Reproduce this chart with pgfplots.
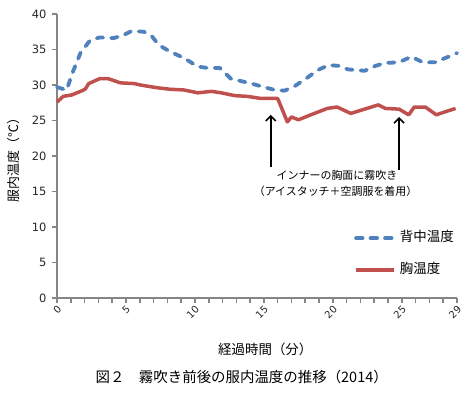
\documentclass[border=0pt]{standalone}
\usepackage{pgfplots}
\pgfplotsset{compat=1.18}
\usepackage{fontspec}
\setmainfont{DejaVu Sans}
\newfontfamily\jp{Noto Sans CJK JP}
\usetikzlibrary{arrows.meta}
\definecolor{bluel}{HTML}{4F81BD}
\definecolor{redl}{HTML}{C0504D}
\definecolor{axgray}{HTML}{868686}
\begin{document}
\begin{tikzpicture}
\begin{axis}[
 scale only axis, width=400bp, height=284bp,
 xmin=0, xmax=29, ymin=0, ymax=40,
 axis lines*=left,
 axis line style={axgray, line width=2.2bp},
 tick style={axgray, line width=1.6bp},
 tick align=outside,
 major tick length=5bp, minor tick length=5bp,
 xtick={0,5,10,15,20,25,29},
 minor xtick={0,...,29},
 ytick={0,5,...,40},
 /pgf/number format/assume math mode=true,
 yticklabel style={font=\fontsize{11.5}{12}\selectfont, text=black!85, xshift=-2bp},
 xticklabel style={font=\fontsize{10}{11}\selectfont, rotate=45, anchor=east, text=black!85, yshift=-5bp, xshift=2bp},
 clip=false,
 legend style={at={(axis cs:21.53,9.37)}, anchor=north west, draw=none, fill=none, inner sep=0pt, row sep=19bp, column sep=4bp, font=\jp\fontsize{13.5}{16}\selectfont, nodes={inner sep=0pt, text height=10bp, text depth=3bp}},
 legend cell align=left,
 legend image code/.code={\draw[#1] (0bp,0bp) -- (38bp,0bp);},
]
\addplot[bluel, line width=3.8bp, dash pattern=on 6.5bp off 8bp, line cap=round, line join=round] coordinates {
(0,29.7) (0.5,29.4) (0.7,29.3) (1.1,31.6) (1.7,34.5) (2.4,36.3) (3.1,36.7) (4.1,36.6) (4.8,37.0) (5.4,37.6) (6.3,37.5) (6.9,36.8) (7.4,35.6) (8.2,34.7) (9.2,33.8) (10.2,32.6) (10.9,32.4) (11.8,32.4) (12.6,30.9) (14.1,30.2) (15.0,29.7) (15.8,29.3) (16.5,29.2) (17.2,29.8) (18.2,31.1) (18.9,32.1) (19.7,32.8) (20.4,32.7) (21.1,32.2) (22.3,32.0) (23.1,32.7) (23.8,33.1) (24.8,33.2) (25.7,34.0) (26.5,33.2) (27.4,33.2) (28.4,34.0) (29.0,34.5)
};
\addlegendentry{背中温度}
\addplot[redl, line width=3.5bp, line join=round] coordinates {
(0,27.6) (0.45,28.4) (1.07,28.6) (1.7,29.1) (2.04,29.4) (2.3,30.2) (3.1,30.9) (3.7,30.9) (4.6,30.3) (5.6,30.2) (6.05,30.0) (7.3,29.6) (8.2,29.4) (9.2,29.3) (10.2,28.9) (11.2,29.1) (11.9,28.9) (12.9,28.5) (13.8,28.4) (14.8,28.1) (16.0,28.1) (16.7,24.8) (17.0,25.5) (17.5,25.1) (18.4,25.8) (19.6,26.7) (20.3,26.9) (21.3,26.0) (22.3,26.6) (23.3,27.2) (23.8,26.7) (24.8,26.6) (25.5,25.8) (25.9,26.9) (26.7,26.9) (27.5,25.8) (28.1,26.2) (28.9,26.7)
};
\addlegendentry{胸温度}
\node[font=\jp\fontsize{11}{12}\selectfont] at (axis cs:20.3,17.3) {インナーの胸面に霧吹き};
\node[font=\jp\fontsize{11}{12}\selectfont] at (axis cs:20.2,15.07) {（アイスタッチ＋空調服を着用）};
\draw[-{Straight Barb[length=5bp,width=10bp]}, line width=1.6bp] (axis cs:15.5,18.45) -- (axis cs:15.5,25.8);
\draw[-{Straight Barb[length=5bp,width=10bp]}, line width=1.6bp] (axis cs:24.8,18.0) -- (axis cs:24.8,25.5);
\node[font=\jp\fontsize{13.5}{14}\selectfont] at (axis cs:15.1,-7.2) {経過時間（分）};
\node[font=\jp\fontsize{14.5}{15}\selectfont] at (axis cs:13.39,-11.1) {図２　霧吹き前後の服内温度の推移（2014）};
\node[rotate=90, font=\jp\fontsize{13}{14}\selectfont] at (axis cs:-3.12,19.9) {服内温度（℃）};
\end{axis}
\pgfresetboundingbox
\path (-57bp,-95bp) rectangle (412bp,298bp);
\end{tikzpicture}
\end{document}
